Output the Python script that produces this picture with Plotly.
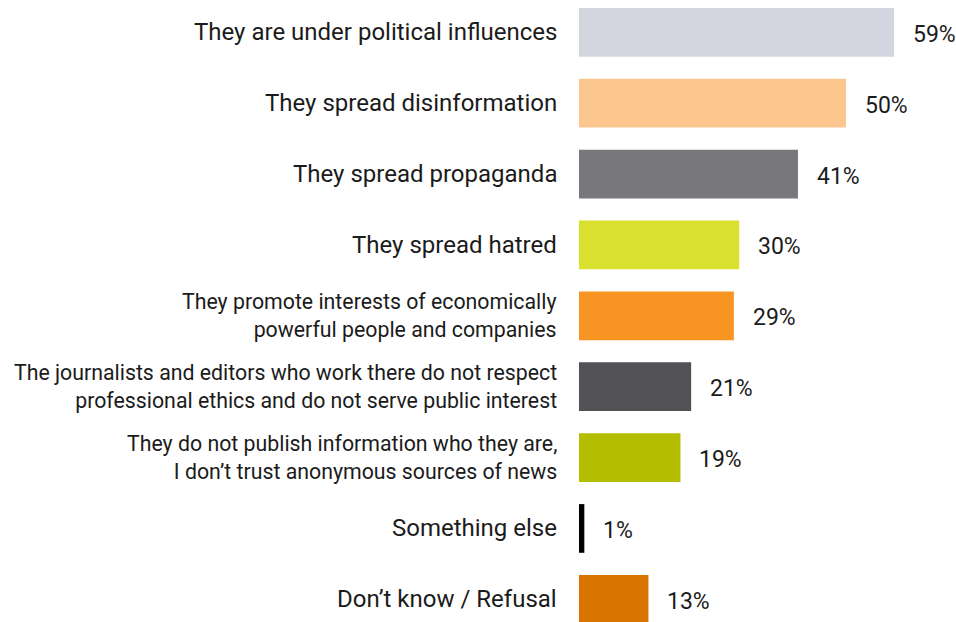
import plotly.graph_objects as go

# Reasons for distrust, top to bottom
categories = [
    "They are under political influences",
    "They spread disinformation",
    "They spread propaganda",
    "They spread hatred",
    "They promote interests of economically<br>powerful people and companies",
    "The journalists and editors who work there do not respect<br>professional ethics and do not serve public interest",
    "They do not publish information who they are,<br>I don’t trust anonymous sources of news",
    "Something else",
    "Don’t know / Refusal",
]
values = [59, 50, 41, 30, 29, 21, 19, 1, 13]
value_labels = ["59%", "50%", "41%", "30%", "29%", "21%", "19%", "1%", "13%"]
colors = [
    "#D3D5DF", "#FCC78F", "#77777C", "#D9E02D", "#F89422",
    "#515156", "#B4BE00", "#000000", "#D97400",
]

TEXT = "#1b1b1b"
FONT = "Roboto"

fig = go.Figure(
    go.Bar(
        x=values,
        y=categories,
        orientation="h",
        marker=dict(color=colors, line=dict(width=0)),
        hoverinfo="skip",
    )
)

annotations = []
for cat, val, lab in zip(categories, values, value_labels):
    # category label, right-aligned to the left of the bar
    annotations.append(dict(
        x=0, y=cat, xref="x", yref="y",
        text=cat, showarrow=False,
        xanchor="right", yanchor="middle", align="right",
        xshift=-20,
        font=dict(family=FONT, size=21.3 if "<br>" in cat else 24, color=TEXT),
    ))
    # value label after the bar end
    annotations.append(dict(
        x=val, y=cat, xref="x", yref="y",
        text=lab, showarrow=False,
        xanchor="left", yanchor="middle",
        xshift=17, yshift=-2,
        font=dict(family=FONT, size=23, color=TEXT),
    ))

fig.update_layout(
    width=956, height=622,
    margin=dict(l=579, r=0, t=0, b=0),
    paper_bgcolor="white", plot_bgcolor="white",
    bargap=0.313,
    showlegend=False,
    font=dict(family=FONT, color=TEXT),
    xaxis=dict(range=[0, 70.6], visible=False, fixedrange=True),
    yaxis=dict(
        categoryorder="array", categoryarray=categories,
        range=[8.32, -0.456],
        showticklabels=False, showgrid=False, zeroline=False,
        showline=False, ticks="", fixedrange=True,
    ),
    annotations=annotations,
)

fig.write_html("out.html", config={"displayModeBar": False})
